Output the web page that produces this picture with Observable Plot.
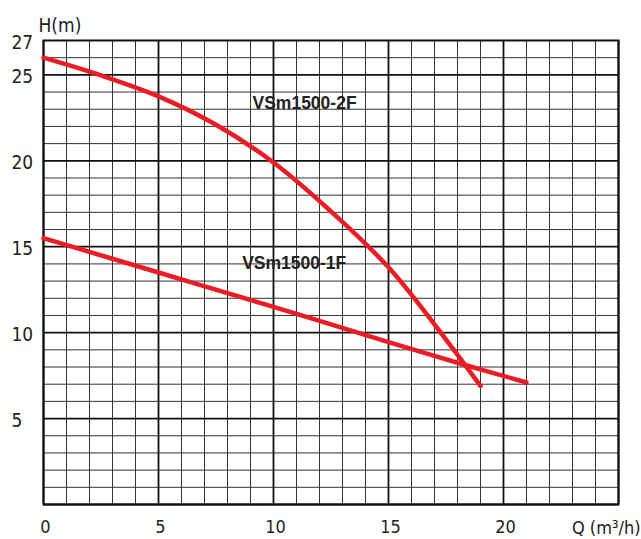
<!DOCTYPE html>
<html>
<head>
<meta charset="utf-8">
<script src="https://cdn.jsdelivr.net/npm/d3@7"></script>
<script src="https://cdn.jsdelivr.net/npm/@observablehq/plot@0.6"></script>
<style>
  html, body { margin: 0; padding: 0; background: #fff; }
  #chart svg { display: block; }
</style>
</head>
<body>
<div id="chart"></div>
<script>
// Curve VSm1500-2F (Q in m³/h, H in m)
const q2F = [0, 2.5, 5, 7.5, 10, 12.5, 15, 17.5, 19];
const h2F = [26, 24.97, 23.75, 22.1, 19.9, 17.05, 13.8, 9.6, 6.9];
// Curve VSm1500-1F
const q1F = [0, 5, 10, 15, 18, 21];
const h1F = [15.5, 13.5, 11.5, 9.45, 8.25, 7.1];

const seriesNames = ["VSm1500-2F", "VSm1500-1F"];
const labelQ = [11.35, 10.9];
const labelH = [23.35, 14.05];

const xTicks = [0, 5, 10, 15, 20];
const yTicks = [5, 10, 15, 20, 25, 27];
const xGrid = d3.range(0, 26);
const yGrid = d3.range(0, 28);

const xTitle = "Q (m³/h)";
const yTitle = "H(m)";

const line2F = q2F.map((q, i) => ({q, h: h2F[i]}));
const line1F = q1F.map((q, i) => ({q, h: h1F[i]}));
const labels = seriesNames.map((name, i) => ({name, q: labelQ[i], h: labelH[i]}));

const tickFont = "'Liberation Sans Narrow', 'DejaVu Sans Condensed', 'Roboto Condensed', sans-serif";
const red = "#ec1c24";

const chart = Plot.plot({
  width: 641,
  height: 539,
  marginTop: 40,
  marginRight: 23,
  marginBottom: 35,
  marginLeft: 43,
  x: {domain: [0, 25]},
  y: {domain: [0, 27]},
  style: {fontFamily: tickFont, background: "#fff"},
  marks: [
    Plot.ruleX(xGrid.filter(d => d % 5 !== 0), {stroke: "#333", strokeWidth: 1}),
    Plot.ruleY(yGrid.filter(d => d % 5 !== 0), {stroke: "#333", strokeWidth: 1}),
    Plot.ruleX(xGrid.filter(d => d % 5 === 0), {stroke: "#111", strokeWidth: 1.8}),
    Plot.ruleY(yGrid.filter(d => d % 5 === 0), {stroke: "#111", strokeWidth: 1.8}),
    Plot.frame({stroke: "#111", strokeWidth: 2}),
    Plot.axisX(xTicks, {tickSize: 0, tickPadding: 16, fontSize: 18, fill: "#222", dx: 2, label: null}),
    Plot.axisY(yTicks, {tickSize: 0, tickPadding: 32, textAnchor: "start", fontSize: 19, fill: "#222", dy: 2, label: null}),
    Plot.line(line2F, {x: "q", y: "h", curve: "catmull-rom", stroke: red, strokeWidth: 4.5}),
    Plot.line(line1F, {x: "q", y: "h", curve: "catmull-rom", stroke: red, strokeWidth: 4.5}),
    Plot.text(labels, {x: "q", y: "h", text: "name", fontFamily: "'Liberation Sans', Arial, sans-serif", fontWeight: "bold", fontSize: 17.5, fill: "#222"}),
    Plot.text([yTitle], {frameAnchor: "top-left", dx: -5, dy: -15, textAnchor: "start", lineAnchor: "middle", fontSize: 19, fill: "#222"}),
    Plot.text([xTitle], {frameAnchor: "bottom-right", dx: 22, dy: 24, textAnchor: "end", lineAnchor: "middle", fontSize: 18, fill: "#222"})
  ]
});
document.getElementById("chart").appendChild(chart);
</script>
</body>
</html>
